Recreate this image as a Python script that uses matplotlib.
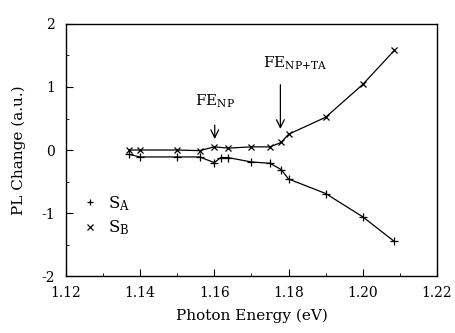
import matplotlib
matplotlib.use("Agg")
import matplotlib.pyplot as plt
from matplotlib.lines import Line2D
from matplotlib.ticker import MultipleLocator, FormatStrFormatter

# photon energy (eV) and PL change (a.u.)
energy_a = [1.137, 1.140, 1.150, 1.156, 1.160, 1.1617, 1.1637, 1.170, 1.175, 1.178, 1.180, 1.190, 1.200, 1.2085]
change_a = [-0.07, -0.11, -0.11, -0.11, -0.20, -0.12, -0.12, -0.19, -0.21, -0.31, -0.46, -0.69, -1.06, -1.45]

energy_b = [1.137, 1.140, 1.150, 1.156, 1.160, 1.1637, 1.170, 1.175, 1.178, 1.180, 1.190, 1.200, 1.2085]
change_b = [0.00, 0.00, 0.00, -0.01, 0.05, 0.03, 0.05, 0.05, 0.12, 0.25, 0.52, 1.04, 1.58]

labels = ["S$_{\\mathrm{A}}$", "S$_{\\mathrm{B}}$"]


def format_plot():
    plt.rcParams["font.family"] = "DejaVu Serif"
    plt.rcParams["mathtext.fontset"] = "dejavuserif"
    plt.rcParams["axes.unicode_minus"] = False
    plt.rcParams["font.size"] = 10
    plt.rcParams["axes.linewidth"] = 1.0
    plt.rcParams["xtick.direction"] = "in"
    plt.rcParams["ytick.direction"] = "in"
    plt.rcParams["xtick.major.size"] = 5
    plt.rcParams["ytick.major.size"] = 5
    plt.rcParams["xtick.minor.size"] = 2.5
    plt.rcParams["ytick.minor.size"] = 2.5
    plt.rcParams["xtick.major.pad"] = 7
    plt.rcParams["ytick.major.pad"] = 8


format_plot()
fig = plt.figure(figsize=(4.56, 3.33), dpi=100)
ax = fig.add_axes([0.1447, 0.171, 0.8135, 0.757])

ax.plot(energy_a, change_a, color="black", lw=0.9, marker="+", ms=6, mew=0.9)
ax.plot(energy_b, change_b, color="black", lw=0.9, marker="x", ms=5, mew=0.9)

ax.set_xlim(1.12, 1.22)
ax.set_ylim(-2, 2)
ax.xaxis.set_major_locator(MultipleLocator(0.02))
ax.xaxis.set_minor_locator(MultipleLocator(0.01))
ax.xaxis.set_major_formatter(FormatStrFormatter("%.2f"))
ax.yaxis.set_major_locator(MultipleLocator(1))
ax.yaxis.set_minor_locator(MultipleLocator(0.5))

ax.set_xlabel("Photon Energy (eV)", fontsize=11, labelpad=6)
ax.set_ylabel("PL Change (a.u.)", fontsize=11, labelpad=11)

arrow = dict(arrowstyle="->", color="black", lw=0.9, mutation_scale=14)
ax.annotate("", xy=(1.1601, 0.13), xytext=(1.1601, 0.44), arrowprops=arrow)
ax.text(1.1603, 0.70, "FE$_{\\mathrm{NP}}$", ha="center", va="baseline", fontsize=11)
ax.annotate("", xy=(1.1778, 0.29), xytext=(1.1778, 1.08), arrowprops=arrow)
ax.text(1.1818, 1.31, "FE$_{\\mathrm{NP{+}TA}}$", ha="center", va="baseline", fontsize=11)

handles = [Line2D([], [], color="black", ls="None", marker="+", ms=5, mew=0.9),
           Line2D([], [], color="black", ls="None", marker="x", ms=4, mew=0.9)]
ax.legend(handles, labels, loc="lower left", bbox_to_anchor=(0.01, 0.095), frameon=False,
          handlelength=0.6, handletextpad=0.8, fontsize=12, labelspacing=0.35)

fig.savefig("out.png", dpi=100)
